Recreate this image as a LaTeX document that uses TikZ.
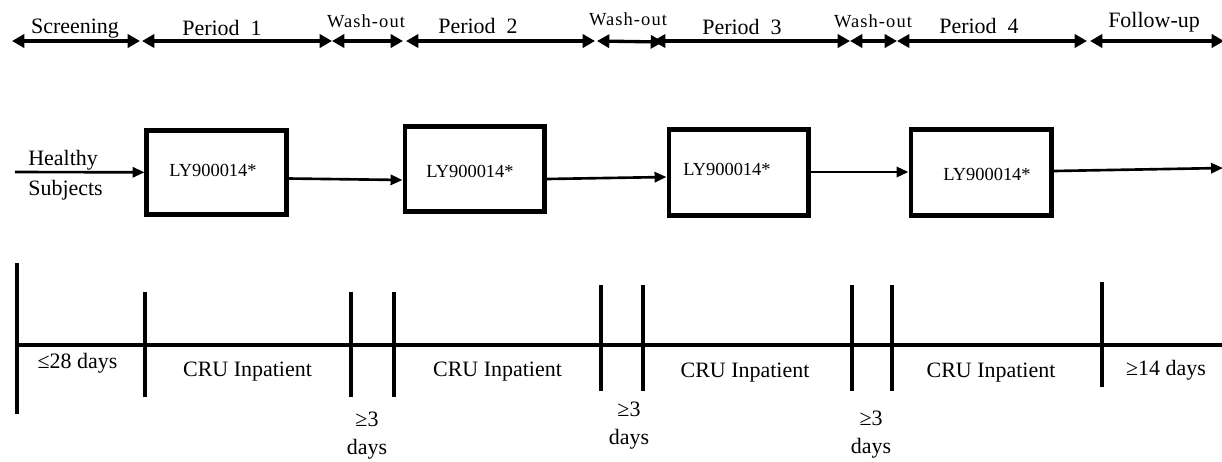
\documentclass[tikz,border=0pt]{standalone}
\usepackage{fontspec}
\setmainfont{Liberation Serif}
\newfontfamily\spacedserif[LetterSpace=6]{Liberation Serif}
\usetikzlibrary{arrows.meta,calc,positioning}

\begin{document}
\begin{tikzpicture}[x=0.02cm,y=-0.02cm,
		font=\fontsize{12.5}{15}\selectfont,
		span/.style={line width=1.9pt,{Triangle[length=7pt,width=7.5pt]}-{Triangle[length=7pt,width=7.5pt]}},
		phase/.style={anchor=base,inner sep=0pt},
		washlabel/.style={anchor=base,inner sep=0pt,font=\spacedserif\fontsize{10.5}{12}\selectfont},
		dosebox/.style={draw,line width=2.3pt,inner sep=0pt,minimum width=2.8cm},
		dose/.style={anchor=base,inner sep=0pt,font=\fontsize{10.5}{12}\selectfont},
		flow/.style={line width=1.5pt,-{Triangle[length=6.8pt,width=5.8pt]}},
		tick/.style={line width=2.3pt}]
		\useasboundingbox (0,0) rectangle (1222,461);
		% study phases along the top
		\coordinate (s0) at (12,41);
		\coordinate (s1) at (140,41);
		\coordinate (p1a) at (142,41);
		\coordinate (p1b) at (332,41);
		\coordinate (w1b) at (403,41);
		\coordinate (p2a) at (406,41);
		\coordinate (p2b) at (595,41);
		\coordinate (w2a) at (597,41);
		\coordinate (w2b) at (663,42);
		\coordinate (p3a) at (653,41);
		\coordinate (p3b) at (850,41);
		\coordinate (w3b) at (897,41);
		\coordinate (p4b) at (1087,41);
		\coordinate (f0) at (1090,41);
		\coordinate (f1) at (1224,41);
		\draw[span] (s0) -- (s1);
		\draw[span] (p1a) -- (p1b);
		\draw[span] (p1b) -- (w1b);
		\draw[span] (p2a) -- (p2b);
		\draw[span] (w2a) -- (w2b);
		\draw[span] (p3a) -- (p3b);
		\draw[span] (p3b) -- (w3b);
		\draw[span] (w3b) -- (p4b);
		\draw[span] (f0) -- (f1);
		\node[phase] (screen) at (75,33) {Screening};
		\node[phase] (per1) at (222,35) {Period\ \ 1};
		\node[washlabel] (wash1) at (366,27) {Wash-out};
		\node[phase] (per2) at (478,33) {Period\ \ 2};
		\node[washlabel] (wash2) at (628,25) {Wash-out};
		\node[phase] (per3) at (742,34) {Period\ \ 3};
		\node[washlabel] (wash3) at (873,27) {Wash-out};
		\node[phase] (per4) at (979,33) {Period\ \ 4};
		\node[phase] (follow) at (1154,27) {Follow-up};
		%
		% treatment boxes
		\node[dosebox,minimum height=1.68cm] (b1) at (216.5,172.5) {};
		\node[dosebox,minimum height=1.70cm] (b2) at (474.5,169) {};
		\node[dosebox,minimum height=1.72cm] (b3) at (738.5,172.5) {};
		\node[dosebox,minimum width=2.82cm,minimum height=1.72cm] (b4) at (981,172.5) {};
		\node[dose] (d1) at (213,176) {LY900014*};
		\node[dose] (d2) at (470,177) {LY900014*};
		\node[dose] (d3) at (727,175) {LY900014*};
		\node[dose] (d4) at (987,180) {LY900014*};
		\node[anchor=base west,inner sep=0pt,align=left] (subj) at (28,195) {Healthy\\[2pt]Subjects};
		\coordinate (entry) at (15,172);
		\coordinate (exit) at (1223,168);
		\draw[flow] (entry) -- (b1);
		\draw[flow] ($(b1.east)+(0,6)$) -- ($(b2.west)+(0,11)$);
		\draw[flow] ($(b2.east)+(0,10)$) -- ($(b3.west)+(0,4.5)$);
		\draw[flow] ($(b3.east)+(0,-0.5)$) -- ($(b4.west)+(0,-0.5)$);
		\draw[flow] ($(b4.east)+(0,-1.5)$) -- (exit);
		%
		% time line
		\coordinate (t0) at (17,345);
		\coordinate (tend) at (1224,345);
		\draw[tick] (t0) -- (tend);
		\draw[tick] (17,263) -- (17,414);
		\draw[tick] (145,292) -- (145,397);
		\draw[tick] (351,292) -- (351,397);
		\draw[tick] (394,292) -- (394,397);
		\draw[tick] (601,285) -- (601,391);
		\draw[tick] (643,285) -- (643,391);
		\draw[tick] (852,285) -- (852,391);
		\draw[tick] (892,285) -- (892,391);
		\draw[tick] (1102,282) -- (1102,387);
		\node[phase] (scrdays) at (77.5,368) {≤28 days};
		\node[phase] (cru1) at (247.5,376) {CRU Inpatient};
		\node[phase] (cru2) at (497.5,376) {CRU Inpatient};
		\node[phase] (cru3) at (745,377) {CRU Inpatient};
		\node[phase] (cru4) at (991,377) {CRU Inpatient};
		\node[phase] (fudays) at (1166,375) {≥14 days};
		\node[anchor=base,inner sep=0pt,align=center] (gap1) at (367,454) {≥3\\[0.5pt]days};
		\node[anchor=base,inner sep=0pt,align=center] (gap2) at (629,444) {≥3\\[0.5pt]days};
		\node[anchor=base,inner sep=0pt,align=center] (gap3) at (871,453) {≥3\\[0.5pt]days};
	\end{tikzpicture}
\end{document}
